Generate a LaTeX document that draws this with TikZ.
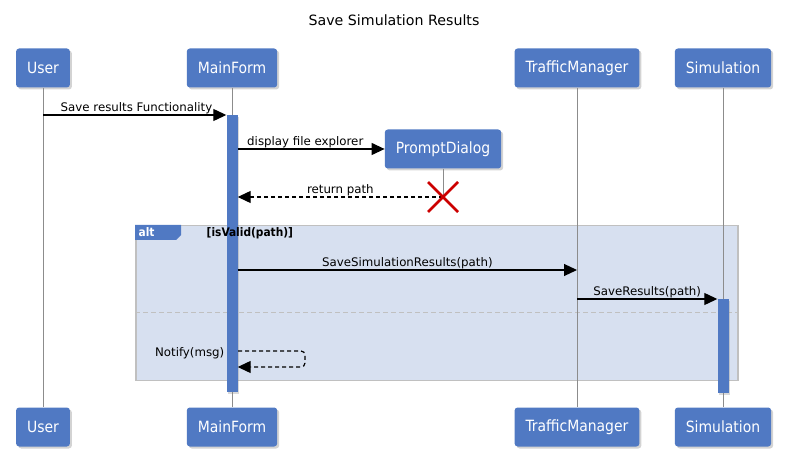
\documentclass[tikz,border=0pt]{standalone}
\usepackage{fontspec}
\setmainfont{DejaVu Sans}
\newfontfamily\headfont{DejaVu Sans Condensed}
\usetikzlibrary{arrows.meta}
\usetikzlibrary{shadows}

\definecolor{headblue}{HTML}{5079C3}
\definecolor{altfill}{HTML}{D7E0F0}
\definecolor{framegray}{HTML}{C0C0C0}
\definecolor{lifegray}{HTML}{8C8C8C}
\definecolor{killred}{HTML}{CC0000}

\begin{document}
\begin{tikzpicture}[x=1pt,y=-1pt]
\useasboundingbox (0,0) rectangle (788,449);

\tikzstyle{actor}=[rectangle,rounded corners=3pt,fill=headblue,text=white,minimum height=39pt,inner xsep=11pt,font=\headfont\fontsize{15.5}{17}\selectfont,drop shadow={shadow xshift=2pt,shadow yshift=-2pt,opacity=0.35}]
\tikzstyle{activation}=[rectangle,fill=headblue,minimum width=11pt,inner sep=0pt,anchor=north,drop shadow={shadow xshift=1.5pt,shadow yshift=-1.5pt,opacity=0.3}]
\tikzstyle{lifeline}=[draw=lifegray,line width=1pt]
\tikzstyle{msg}=[draw=black,line width=1.2pt,-{Triangle[length=13pt,width=12pt]}]
\tikzstyle{reply}=[msg,dashed,dash pattern=on 4pt off 3pt]
\tikzstyle{lbl}=[font=\fontsize{11.8}{13}\selectfont,inner sep=0.5pt]

%Title
\node[font=\fontsize{14.2}{16}\selectfont] (title) at (394,20) {Save Simulation Results};

%Alt frame
\node[draw=framegray,fill=altfill,line width=1.5pt,minimum width=602pt,minimum height=155pt,anchor=north west,inner sep=0pt] (alt) at (135,225) {};
\fill[headblue] (alt.north west) -- (181,225) -- (181,235) -- (176,240) -- (135,240) -- cycle;
\node[lbl,text=white,anchor=west,font=\headfont\fontsize{11.8}{13}\selectfont\bfseries] (alt-tag) at (138,232.5) {alt};
\draw[framegray,line width=1pt,dashed,dash pattern=on 5pt off 3pt] (alt.west |- 0,313) -- (alt.east |- 0,313);

%Participants
\foreach \name/\x in {User/43, MainForm/232, TrafficManager/577, Simulation/723}
{
\node[actor] (top-\name) at (\x,68) {\name};
\node[actor] (bot-\name) at (\x,427) {\name};
}
\node[actor] (prompt) at (443,149) {PromptDialog};

%Lifelines
\foreach \name in {User, MainForm, TrafficManager, Simulation}
\draw[lifeline] (top-\name) -- (bot-\name);
\coordinate (kill) at (443,197);
\draw[lifeline] (prompt) -- (kill);

%Activations
\node[activation,minimum height=277pt] (act-MainForm) at (232,115) {};
\node[activation,minimum height=94pt] (act-Simulation) at (723,299) {};

%Guard
\node[lbl,anchor=west,font=\headfont\fontsize{11.8}{13}\selectfont\bfseries] (guard) at (206,233) {[isValid(path)]};

%Messages
\draw[msg] (top-User |- act-MainForm.north) -- node[lbl,above,pos=0.51] {Save results Functionality} (act-MainForm.north west);
\draw[msg] (act-MainForm.east |- prompt.west) -- node[lbl,above,pos=0.46] {display file explorer} (prompt.west);
\draw[reply] (kill) -- node[lbl,above] {return path} (act-MainForm.east |- kill);
\draw[killred,line width=2.5pt] (kill) +(-15,-15) -- +(15,15) (kill) +(15,-15) -- +(-15,15);

\coordinate (tm-in) at (577,270);
\draw[msg] (act-MainForm.east |- tm-in) -- node[lbl,above] {SaveSimulationResults(path)} (tm-in);
\draw[msg] (top-TrafficManager |- act-Simulation.north) -- node[lbl,above] {SaveResults(path)} (act-Simulation.north west);

%Self call
\coordinate (self) at (238,351);
\node[lbl,anchor=east] (notify-lbl) at (225,353) {Notify(msg)};
\draw[reply,rounded corners=4pt] (self) -- ++(67,0) -- ++(0,16) -- (act-MainForm.east |- 0,367);

\end{tikzpicture}
\end{document}
